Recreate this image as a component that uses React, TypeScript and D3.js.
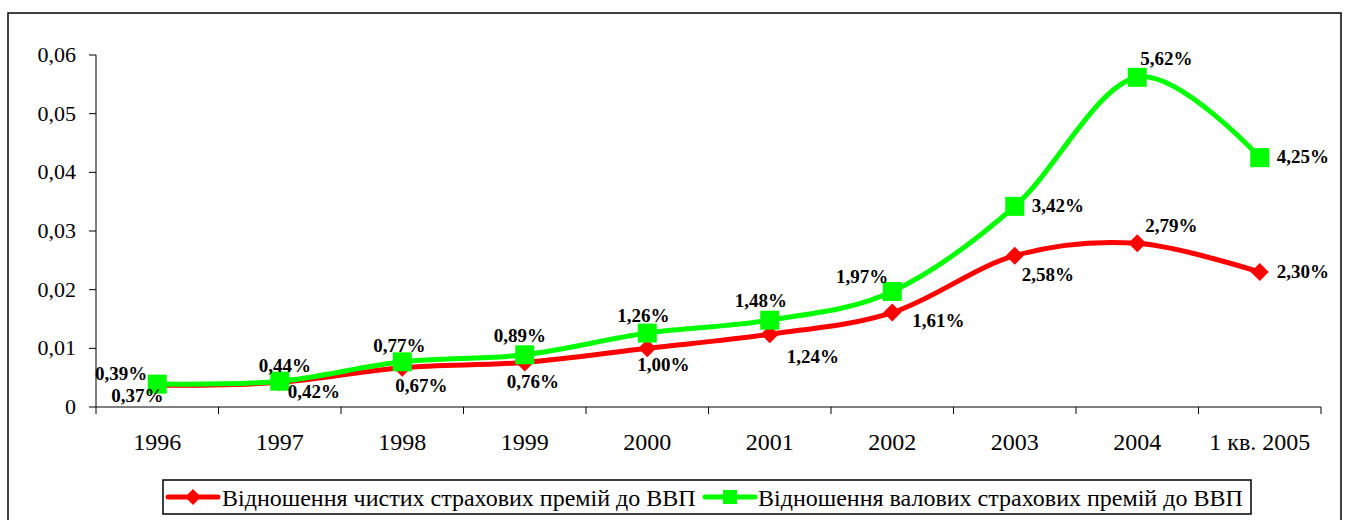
import * as d3 from "d3";

// categories and values (share of GDP)
const categories = ["1996", "1997", "1998", "1999", "2000", "2001", "2002", "2003", "2004", "1 кв. 2005"];
const netPremiums = [0.0037, 0.0042, 0.0067, 0.0076, 0.01, 0.0124, 0.0161, 0.0258, 0.0279, 0.023];
const grossPremiums = [0.0039, 0.0044, 0.0077, 0.0089, 0.0126, 0.0148, 0.0197, 0.0342, 0.0562, 0.0425];
const yTicks = [0, 0.01, 0.02, 0.03, 0.04, 0.05, 0.06];
const netName = "Відношення чистих страхових премій до ВВП";
const grossName = "Відношення валових страхових премій до ВВП";

// label placement relative to each point: [anchor, dx, dy]
const netLabelPos: [string, number, number][] = [
  ["middle", -20, 17], ["start", 8, 16], ["middle", 19, 24], ["middle", 8, 26], ["middle", 16, 23],
  ["start", 17, 29], ["start", 20, 14], ["start", 7, 25], ["start", 8, -11], ["start", 17, 6],
];
const grossLabelPos: [string, number, number][] = [
  ["end", -10, -4], ["middle", 5, -9], ["middle", -3, -10], ["middle", -5, -13], ["middle", -4, -11],
  ["middle", -9, -13], ["end", -4, -8], ["start", 17, 6], ["start", 3, -12], ["start", 17, 5],
];

const W = 1346;
const H = 520;
const FONT = "'Liberation Serif', 'Times New Roman', serif";
const RED = "#ff0000";
const GREEN = "#00ff00";

const fmtPct = (v: number) => (v * 100).toFixed(2).replace(".", ",") + "%";
const fmtTick = (v: number) => (v === 0 ? "0" : v.toFixed(2).replace(".", ","));

export default function App() {
  const x = d3.scaleBand<string>().domain(categories).range([96, 1321]);
  const y = d3.scaleLinear().domain([0, 0.06]).range([407, 55]);
  const cx = (c: string) => (x(c) as number) + x.bandwidth() / 2;

  const line = d3
    .line<number>()
    .x((_, i) => cx(categories[i]))
    .y((d) => y(d))
    .curve(d3.curveCardinal.tension(0));

  const diamond = (px: number, py: number, r: number) =>
    `M${px},${py - r}L${px + r},${py}L${px},${py + r}L${px - r},${py}Z`;

  const bounds = [...categories.map((c) => x(c) as number), 1321];

  return (
    <svg width={W} height={H} style={{ position: "absolute", left: 0, top: 0 }} fontFamily={FONT}>
      <rect x={0} y={0} width={W} height={H} fill="#fff" />
      {/* outer frame */}
      <rect x={8} y={13} width={1333} height={520} fill="none" stroke="#000" strokeWidth={1.5} />

      {/* y axis */}
      <line x1={96} x2={96} y1={y(0.06)} y2={y(0)} stroke="#000" strokeWidth={1} />
      {yTicks.map((t) => (
        <g key={t}>
          <line x1={89} x2={96} y1={y(t)} y2={y(t)} stroke="#000" />
          <text x={76} y={y(t) + 7} textAnchor="end" fontSize={22}>
            {fmtTick(t)}
          </text>
        </g>
      ))}

      {/* x axis */}
      <line x1={96} x2={1321} y1={y(0)} y2={y(0)} stroke="#000" />
      {bounds.map((b, i) => (
        <line key={i} x1={b} x2={b} y1={y(0)} y2={y(0) + 7} stroke="#000" />
      ))}
      {categories.map((c) => (
        <text key={c} x={cx(c)} y={450} textAnchor="middle" fontSize={24}>
          {c}
        </text>
      ))}

      {/* net premiums */}
      <path d={line(netPremiums) as string} fill="none" stroke={RED} strokeWidth={5} />
      {netPremiums.map((v, i) => (
        <path key={i} d={diamond(cx(categories[i]), y(v), 9)} fill={RED} />
      ))}

      {/* gross premiums */}
      <path d={line(grossPremiums) as string} fill="none" stroke={GREEN} strokeWidth={5} />
      {grossPremiums.map((v, i) => (
        <rect key={i} x={cx(categories[i]) - 9.5} y={y(v) - 9.5} width={19} height={19} fill={GREEN} />
      ))}

      {/* data labels */}
      {netPremiums.map((v, i) => {
        const [a, dx, dy] = netLabelPos[i];
        return (
          <text key={"n" + i} x={cx(categories[i]) + dx} y={y(v) + dy} textAnchor={a as any} fontSize={19} fontWeight="bold">
            {fmtPct(v)}
          </text>
        );
      })}
      {grossPremiums.map((v, i) => {
        const [a, dx, dy] = grossLabelPos[i];
        return (
          <text key={"g" + i} x={cx(categories[i]) + dx} y={y(v) + dy} textAnchor={a as any} fontSize={19} fontWeight="bold">
            {fmtPct(v)}
          </text>
        );
      })}

      {/* legend */}
      <rect x={163} y={480} width={1088} height={34} fill="#fff" stroke="#000" strokeWidth={1.5} />
      <line x1={168} x2={218} y1={497} y2={497} stroke={RED} strokeWidth={5} strokeLinecap="round" />
      <path d={diamond(193, 497, 8)} fill={RED} />
      <text x={222} y={506} fontSize={24}>
        {netName}
      </text>
      <line x1={705} x2={755} y1={497} y2={497} stroke={GREEN} strokeWidth={5} strokeLinecap="round" />
      <rect x={723} y={490} width={14} height={14} fill={GREEN} />
      <text x={758} y={506} fontSize={24}>
        {grossName}
      </text>
    </svg>
  );
}
